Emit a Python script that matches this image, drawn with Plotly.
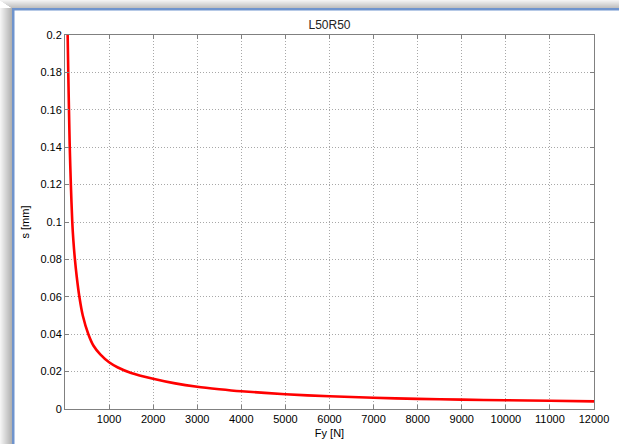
import plotly.graph_objects as go

# Data (Fy [N], s [mm])
fy = [60, 74, 90, 108, 133, 165, 190, 225, 265, 326, 403, 530, 647, 800, 1000, 1200, 1500,
      2000, 2500, 3000, 3500, 4000, 5000, 6000, 7000, 8000, 9000, 10000, 11000, 12000]
s = [0.2, 0.18, 0.16, 0.14, 0.12, 0.1, 0.09, 0.08, 0.071, 0.06, 0.05, 0.04, 0.0338, 0.0292,
     0.025, 0.0222, 0.0193, 0.0162, 0.0137, 0.0119, 0.0106, 0.0095, 0.0079, 0.0068, 0.0060,
     0.0054, 0.0050, 0.0047, 0.0044, 0.0041]

x_ticks = [1000, 2000, 3000, 4000, 5000, 6000, 7000, 8000, 9000, 10000, 11000, 12000]
y_ticks = [0, 0.02, 0.04, 0.06, 0.08, 0.1, 0.12, 0.14, 0.16, 0.18, 0.2]
y_labels = ["0", "0.02", "0.04", "0.06", "0.08", "0.1", "0.12", "0.14", "0.16", "0.18", "0.2"]

W, H = 619, 444
L, R, T, B = 65, 25, 35, 35
pw, ph = W - L - R, H - T - B

def px(x):
    return (x - L) / pw

def py(y):
    return (H - B - y) / ph

fig = go.Figure()
fig.add_trace(go.Scatter(x=fy, y=s, mode="lines",
                         line=dict(color="#ff0000", width=2.6, shape="spline", smoothing=0.8),
                         hoverinfo="skip", showlegend=False))

shapes = []
# window shadow gradient (left and top)
grays = ["#f4f4f4", "#eeeeee", "#e8e8e8", "#e2e2e2", "#dcdcdc", "#d6d6d6", "#d0d0d0", "#cacaca",
         "#c4c4c4", "#bebebe", "#b8b8b8", "#b2b2b2"]
for i, g in enumerate(grays):
    shapes.append(dict(type="rect", xref="paper", yref="paper", x0=px(i), x1=px(i + 1), y0=py(H), y1=py(8),
                       fillcolor=g, line=dict(width=0), layer="above"))
tgrays = ["#f2f2f2", "#ebebeb", "#e4e4e4", "#dddddd", "#d6d6d6", "#cfcfcf", "#c8c8c8", "#c1c1c1"]
for i, g in enumerate(tgrays):
    shapes.append(dict(type="rect", xref="paper", yref="paper", x0=px(min(i * 1.5, 12)), x1=px(W),
                       y0=py(i), y1=py(i + 1), fillcolor=g, line=dict(width=0), layer="above"))
# blue window border
shapes.append(dict(type="rect", xref="paper", yref="paper", x0=px(12), x1=px(14.5), y0=py(H), y1=py(8),
                   fillcolor="#6f94cd", line=dict(width=0), layer="above"))
shapes.append(dict(type="rect", xref="paper", yref="paper", x0=px(12), x1=px(W), y0=py(10.5), y1=py(8),
                   fillcolor="#6f94cd", line=dict(width=0), layer="above"))

grid_style = dict(showgrid=True, gridcolor="#a8a8a8", griddash="1px,2px", gridwidth=1,
                  showline=True, linecolor="#808080", linewidth=1, mirror="ticks",
                  ticks="inside", ticklen=4, tickcolor="#808080", zeroline=False, automargin=False)

fig.update_layout(
    width=W, height=H,
    margin=dict(l=L, r=R, t=T, b=B, autoexpand=False),
    paper_bgcolor="white", plot_bgcolor="white",
    font=dict(family="Liberation Sans, Arial, sans-serif", size=11, color="black"),
    title=dict(text="L50R50", x=0.5, xref="paper", xanchor="center", y=1 - 25 / H, yref="container",
               yanchor="middle", font=dict(size=12, color="#222222")),
    shapes=shapes,
    showlegend=False,
)
fig.update_xaxes(range=[0, 12000], tickvals=x_ticks, ticktext=[str(v) for v in x_ticks],
                 title=dict(text="Fy [N]", standoff=5, font=dict(size=11)), **grid_style)
fig.update_yaxes(range=[0, 0.2], tickvals=y_ticks, ticktext=y_labels,
                 title=dict(text="s [mm]", standoff=8, font=dict(size=11)), **grid_style)

fig.write_html("out.html")
